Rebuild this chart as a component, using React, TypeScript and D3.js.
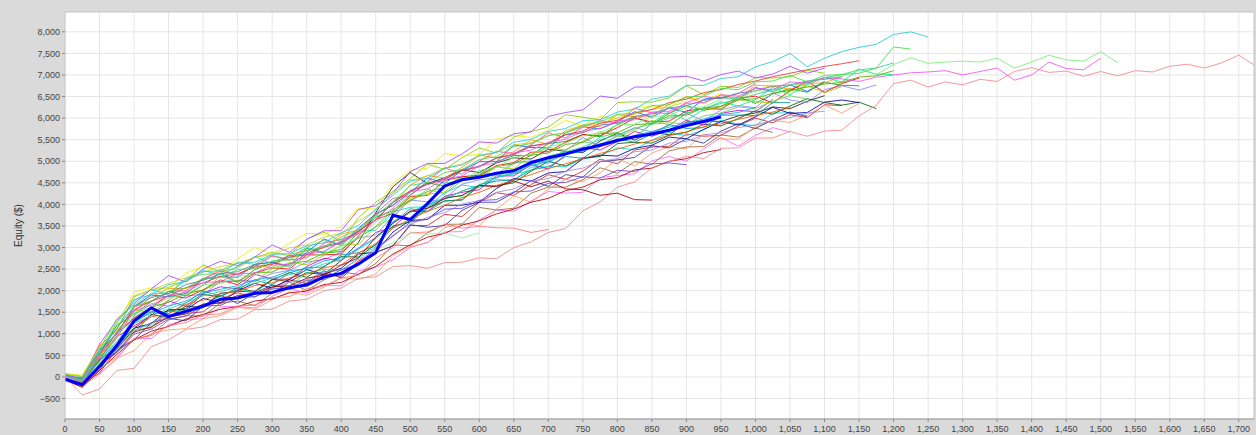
import React from "react";
import * as d3 from "d3";

const W = 1256;
const H = 435;
const TRADE_STEP = 25;
const xTickValues = d3.range(0, 1701, 50);
const yTickValues = d3.range(-500, 8001, 500);
const yAxisTitle = "Equity ($)";

const runA = [80, 10, 710, 1100, 1860, 2020, 2070, 2230, 2600, 2440, 2530, 2770, 2890, 2810, 3190, 3360, 3130, 3690, 4050, 4300, 4600, 4930, 4810, 5080, 5310, 5190, 5560, 5690, 5790, 6080, 6020, 5960, 6360, 6380, 6370, 6470, 6750, 6540, 6740, 6710, 6940, 6930, 6960, 7110, 7040];
const runB = [60, 65, 660, 1180, 1970, 2070, 2060, 2410, 2560, 2450, 2740, 3000, 2850, 3100, 3330, 3310, 3480, 3910, 3890, 4490, 4790, 4840, 5180, 5120, 5160, 5510, 5600, 5550, 5720, 5950, 5820, 6040, 5980, 6240, 6280, 6240, 6490, 6410, 6570, 6420, 6650, 6770, 6610];
const runC = [0, -105, 520, 1200, 1450, 1750, 1980, 1880, 2130, 2410, 2190, 2490, 2640, 2590, 2980, 2870, 2910, 3360, 3700, 3850, 4220, 4500, 4420, 4640, 4680, 4990, 5130, 5140, 5410, 5460, 5620, 5570, 5850, 6020, 5860, 6110, 6290, 6180, 6270, 6500, 6340, 6560, 6680, 6600, 6830, 6760, 6750];
const runD = [-50, -132, 90, 640, 1090, 1140, 1530, 1470, 1510, 1810, 1950, 1850, 2070, 2250, 2170, 2390, 2330, 2690, 2880, 3040, 3510, 3510, 3770, 3720, 4050, 4270, 4210, 4460, 4690, 4580, 4770, 5050, 4940, 5260, 5330, 5350, 5630, 5580, 5600, 5820, 6000, 5890, 6080, 6010, 6310, 6290];
const runE = [-20, -132, 400, 650, 1120, 1450, 1370, 1640, 1630, 1940, 1980, 1990, 2260, 2210, 2420, 2370, 2700, 3120, 3810, 4410, 4740, 4480, 4620, 4800, 4740, 4960, 5080, 5050, 5280, 5230, 5200, 5470, 5650, 5490, 5680, 5610, 5910, 5940, 5920, 6050, 6120, 6260, 6220, 6390, 6520];
const runF = [50, 9, 540, 1260, 1760, 2020, 1920, 2250, 2470, 2360, 2560, 2790, 2630, 2770, 3000, 2890, 3160, 3380, 3400, 3830, 3930, 3950, 4270, 4450, 4390, 4580, 4560, 4860, 4890, 4870, 5050, 5120, 5310, 5270, 5490, 5670, 5590, 5730, 5950, 5860, 5830, 6120, 6120, 6060];
const runG = [-80, -178, 80, 420, 900, 890, 1210, 1330, 1350, 1630, 1630, 1600, 1870, 2050, 1940, 2130, 2110, 2460, 2540, 2720, 3000, 3120, 3360, 3370, 3640, 3870, 3840, 4080, 4300, 4260, 4280, 4620, 4670, 4710, 5010, 5110, 5000, 5290, 5550, 5350, 5600, 5780, 5680];
const runH = [30, -51, 380, 750, 1420, 1700, 1640, 1880, 1910, 2210, 2240, 2220, 2400, 2470, 2660, 2720, 2890, 3220, 3290, 3730, 4100, 4060, 4130, 4470, 4570, 4610, 4960, 5010, 4950, 5240, 5550, 5350, 5600, 5780, 5680, 5830, 6110, 5940, 6190, 6290, 6240, 6580, 6420, 6360, 6660, 6750, 6650, 6770];
const runI = [-40, -218, 210, 650, 860, 980, 1320, 1420, 1410, 1710, 1760, 1650, 1940, 2200, 2000, 2250, 2430, 2380, 2630, 3060, 3040, 3340, 3540, 3540, 3930, 3870, 3910, 4260, 4400, 4400, 4570, 4850, 4720, 4990, 4930, 5240, 5330, 5340, 5610, 5560, 5770, 5670];
const runJ = [40, -47, 760, 1310, 1700, 2040, 2350, 2200, 2500, 2680, 2580, 2780, 3060, 2890, 3190, 3390, 3390, 3880, 3970, 4260, 4760, 4950, 4950, 5170, 5450, 5420, 5640, 5680, 6040, 6130, 6190, 6510, 6460, 6720, 6720, 6950, 6970, 6860, 7010, 7090, 6930, 7020, 7200, 7040, 7160];
const runK = [20, -88, 730, 1070, 1510, 1860, 2050, 2050, 2270, 2500, 2370, 2590, 2530, 2840, 2930, 2990, 3310, 3410, 3770, 3970, 4450, 4670, 4610, 4860, 5140, 5080, 5220, 5500, 5390, 5710, 5830, 5800, 6080, 6030, 6050, 6320, 6500, 6340, 6530, 6460, 6760, 6740, 6670, 6800, 6820, 6960];
const runL = [-30, -85, 240, 760, 1030, 1440, 1530, 1590, 1910, 1860, 2070, 1970, 2250, 2420, 2310, 2560, 2790, 2780, 3070, 3500, 3590, 3910, 4080, 4100, 4430, 4430, 4500, 4770, 5000, 4890, 5080, 5110, 5410, 5440, 5420, 5600, 5670, 5860, 5820, 5990, 6170, 6090, 6280, 6450, 6360, 6300, 6370, 6220];
const runM = [10, -119, 470, 1020, 1360, 1610, 1890, 1830, 2020, 2250, 2140, 2410, 2530, 2500, 2830, 2830, 2850, 3270, 3650, 3790, 4180, 4210, 4560, 4640, 4670, 4900, 4970, 5210, 5220, 5440, 5620, 5590, 5780, 6000, 5910, 5930, 6170, 6220, 6210, 6460, 6510, 6350, 6640, 6850, 6600, 6800, 6930];
const runN = [-10, -130, 140, 710, 1130, 1200, 1530, 1530, 1600, 1870, 2050, 1940, 2130, 2110, 2410, 2490, 2470, 2750, 3020, 3460, 3620, 3940, 4170, 4190, 4430, 4700, 4710, 4780, 5120, 5220, 5260, 5560, 5660, 5550, 5890, 6150, 5950, 6200, 6380, 6280, 6430, 6710, 6540, 6790, 6940, 6840, 7130, 7020, 7010];
const runO = [-90, -215, 60, 430, 610, 1010, 1090, 1120, 1350, 1420, 1610, 1570, 1790, 1970, 1890, 2080, 2300, 2260, 2380, 2820, 3020, 3110, 3460, 3560, 3500, 3890, 4200, 4050, 4350, 4580, 4530, 4730, 5060, 4890, 5190, 5340, 5290, 5630, 5520, 5510, 5810, 5950, 5900, 6070, 6300, 6120, 6340];
const runP = [0, -28, 620, 990, 1630, 1900, 1860, 1930, 2270, 2320, 2310, 2610, 2660, 2550, 2890, 3200, 3050, 3450, 3780, 3980, 4280, 4610, 4490, 4790, 4990, 4990, 5380, 5320, 5310, 5660, 5800, 5750, 5920, 6150, 6020, 6240, 6130, 6440, 6480, 6440, 6710, 6610, 6770, 6620, 6850];
const runQ = [-20, -140, 410, 930, 1180, 1430, 1760, 1640, 1940, 2090, 2040, 2380, 2270, 2260, 2560, 2750, 2700, 2970, 3350, 3470, 3840, 3830, 4190, 4280, 4340, 4660, 4660, 4920, 4820, 5150, 5320, 5260, 5460, 5690, 5580, 5720, 5950, 5840, 6110, 6180, 6150, 6430];
const runR = [30, -45, 640, 1350, 1670, 1940, 1930, 2290, 2380, 2390, 2660, 2610, 2820, 2720, 3000, 3170, 3060, 3360, 3740, 3830, 4070, 4350, 4240, 4560, 4730, 4700, 4980, 4980, 5000, 5270, 5450, 5390, 5580, 5560, 5860, 5890, 5870, 6050, 6120, 6260, 6220, 6390, 6520, 6440];
const runS = [-60, -236, 290, 600, 860, 1260, 1360, 1300, 1640, 1900, 1700, 1950, 2130, 2030, 2180, 2460, 2290, 2640, 2890, 3040, 3530, 3470, 3510, 3860, 4050, 4050, 4270, 4550, 4420, 4690, 4630, 4990, 5030, 5090, 5360, 5310, 5520, 5420, 5700, 5870, 5760, 5960, 6140, 6030];
const runT = [10, -61, 360, 900, 1560, 1490, 1790, 1990, 1990, 2330, 2220, 2210, 2510, 2650, 2600, 2820, 3050, 3070, 3490, 3680, 4140, 4230, 4290, 4610, 4610, 4870, 4820, 5150, 5320, 5260, 5460, 5690, 5580, 5720, 5950, 5840, 6110, 6230, 6200, 6430, 6380, 6350, 6620, 6750, 6590, 6730];
const runU = [-10, -132, 400, 650, 1250, 1520, 1460, 1710, 1990, 1880, 2020, 2250, 2140, 2410, 2530, 2550, 2830, 2880, 3050, 3570, 3900, 3840, 4080, 4110, 4460, 4540, 4570, 4800, 4870, 5110, 5070, 5340, 5520, 5440, 5630, 5850, 5760, 5780, 6070, 6070, 6060, 6360, 6360];
const runV = [20, -17, 570, 1000, 1620, 1750, 1980, 2000, 2270, 2450, 2370, 2560, 2800, 2710, 2760, 3100, 3190, 3330, 3790, 4140, 4200, 4540, 4850, 4700, 5000, 5230, 5180, 5380, 5660, 5540, 5790, 5940, 5890, 6230, 6120, 6110, 6360, 6500, 6450, 6570, 6800];
const runW = [-30, -128, 160, 770, 1130, 1240, 1560, 1560, 1820, 1720, 2000, 2170, 2060, 2260, 2490, 2380, 2520, 2850, 2890, 3360, 3630, 3650, 3980, 3980, 4050, 4370, 4600, 4540, 4730, 4760, 5060, 5140, 5120, 5300, 5370, 5560, 5520, 5740, 5920, 5840, 6030, 6250, 6110, 6130, 6370, 6420, 6360];
const runY1 = [0, -110, 380, 820, 1300, 1480, 1640, 1760, 1950, 2030, 2120, 2250, 2310, 2460, 2510, 2690, 2760, 2990, 3230, 3600, 3820, 4000, 4130, 4310, 4440, 4620, 4710, 4900, 4990, 5160, 5230, 5410, 5470, 5600, 5690, 5790, 5880, 5980, 6080, 6130, 6250];
const runY2 = [-70, -240, 150, 520, 860, 1060, 1170, 1340, 1450, 1570, 1630, 1760, 1810, 1950, 1990, 2140, 2190, 2380, 2560, 2850, 3060, 3240, 3330, 3520, 3620, 3780, 3890, 4050, 4140, 4320, 4400, 4570, 4620, 4800, 4840, 5000, 5060, 5200, 5270];
const runY3 = [0, -100, 430, 950, 1380, 1620, 1730, 1930, 2010, 2200, 2220, 2420, 2430, 2630, 2680, 2870, 2960, 3230, 3480, 3880, 4090, 4300, 4390, 4600, 4660, 4880, 4940, 5140, 5190, 5390, 5440, 5640, 5660, 5850, 5870, 6050, 6070, 6240, 6270, 6420, 6450, 6580, 6640, 6720, 6790, 6830, 6950, 6980, 7100];
const runY4 = [-20, -140, 300, 730, 1140, 1390, 1470, 1680, 1780, 1930, 1980, 2120, 2180, 2300, 2380, 2530, 2600, 2870, 3090, 3450, 3660, 3840, 3980, 4160, 4280, 4440, 4560, 4690, 4830, 4940, 5060, 5180, 5280, 5400, 5480, 5610, 5680, 5800, 5870, 5970, 6060, 6140, 6240];
const runY5 = [40, -40, 560, 1130, 1640, 1840, 1930, 2140, 2240, 2390, 2440, 2610, 2660, 2810, 2860, 3040, 3120, 3390, 3640, 4060, 4320, 4480, 4600, 4790, 4890, 5080, 5160, 5360, 5410, 5610, 5660, 5840, 5880, 6040, 6100, 6230, 6290, 6410, 6470, 6580, 6630, 6740, 6770, 6860, 6900, 6960];
const runY6 = [70, 10, 690, 1260, 1880, 2010, 2170, 2300, 2430, 2560, 2630, 2770, 2840, 2990, 3060, 3240, 3330, 3610, 3860, 4260, 4560, 4660, 4840, 4940, 5120, 5200, 5380, 5430, 5600, 5660, 5800, 5880, 6000, 6090, 6200, 6260, 6380];
const runY7 = [-30, -170, 240, 660, 1060, 1260, 1390, 1560, 1680, 1800, 1860, 2010, 2060, 2200, 2250, 2420, 2480, 2720, 2920, 3290, 3540, 3700, 3810, 4010, 4090, 4280, 4360, 4540, 4600, 4770, 4840, 5000, 5060, 5220, 5260, 5420, 5460, 5610, 5660, 5780, 5840, 5950, 6010, 6120, 6160];
const runY8 = [-10, -120, 340, 790, 1240, 1420, 1580, 1720, 1880, 1980, 2080, 2170, 2290, 2370, 2470, 2620, 2710, 2960, 3200, 3580, 3820, 3990, 4120, 4310, 4440, 4620, 4730, 4930, 5030, 5220, 5330, 5500, 5610, 5760, 5870, 6000, 6110, 6230, 6340, 6440, 6550, 6650, 6760, 6830, 6940, 7010, 7120, 7160, 7280];
const runY9 = [20, -90, 520, 1040, 1560, 1760, 1880, 2070, 2180, 2330, 2390, 2550, 2610, 2780, 2830, 3010, 3100, 3380, 3640, 4040, 4300, 4460, 4580, 4780, 4870, 5070, 5150, 5350, 5420, 5620, 5700, 5880, 5950, 6120, 6200, 6360, 6440, 6590, 6660, 6780, 6860, 6960, 7040, 7120, 7200, 7260, 7330];

const runLowSalmon = [0, -420, -280, 150, 200, 700, 860, 1100, 1160, 1330, 1340, 1560, 1570, 1760, 1800, 2000, 2060, 2290, 2320, 2560, 2580, 2520, 2650, 2660, 2760, 2740, 3000, 3130, 3350, 3440, 3850, 4060, 4400, 4520, 4850, 4990, 5120, 5060, 5300, 5310, 5540, 5540, 5690, 5580, 5700, 5720, 6050, 6300, 6800, 6880, 6720, 6840, 6770, 6900, 6850, 7080, 7170, 7060, 7090, 6970, 7080, 6980, 7100, 7070, 7200, 7250, 7160, 7280, 7460, 7200];
const runShortSalmon = [0, -230, 180, 460, 880, 960, 1190, 1260, 1440, 1460, 1640, 1670, 1840, 1860, 2050, 2110, 2290, 2360, 2750, 3000, 3340, 3360, 3540, 3450, 3490, 3460, 3450, 3350, 3420];
const runShortGreen = [20, -180, 320, 610, 1090, 1160, 1390, 1460, 1640, 1660, 1840, 1860, 2040, 2060, 2240, 2270, 2490, 2560, 2940, 3110, 3340, 3310, 3340, 3220, 3340];
const runDarkRed = [-40, -200, 260, 580, 1040, 1160, 1390, 1460, 1690, 1710, 1890, 1910, 2090, 2110, 2290, 2360, 2590, 2760, 3240, 3560, 3840, 3910, 4140, 4210, 4440, 4410, 4540, 4410, 4540, 4360, 4340, 4210, 4260, 4110, 4100];
const runViolet = [0, -200, 270, 560, 990, 1110, 1340, 1410, 1640, 1660, 1840, 1860, 2040, 2060, 2240, 2260, 2490, 2610, 2990, 3260, 3590, 3660, 3890, 3910, 4090, 4110, 4290, 4310, 4490, 4510, 4640, 4610, 4790, 4760, 4940, 4960, 4920];
const runTopCyan = [30, -60, 640, 1110, 1790, 1910, 2140, 2210, 2440, 2460, 2640, 2660, 2840, 2860, 3040, 3110, 3340, 3510, 3890, 4210, 4540, 4610, 4840, 4910, 5140, 5210, 5440, 5510, 5690, 5760, 5940, 5960, 6140, 6210, 6440, 6510, 6760, 6760, 6920, 6960, 7190, 7310, 7500, 7190, 7390, 7540, 7640, 7710, 7940, 8000, 7880];
const runTopGreen = [10, -90, 560, 1010, 1640, 1760, 1990, 2060, 2290, 2310, 2490, 2510, 2690, 2710, 2940, 3010, 3240, 3410, 3740, 4060, 4440, 4510, 4740, 4810, 5040, 5110, 5340, 5410, 5590, 5660, 5840, 5910, 6090, 6110, 6290, 6310, 6490, 6510, 6690, 6660, 6840, 6860, 6990, 6840, 6990, 7010, 7040, 7160, 7650, 7600];
const runLongGreen = [0, -110, 490, 910, 1490, 1610, 1840, 1910, 2140, 2160, 2340, 2360, 2540, 2560, 2790, 2860, 3040, 3210, 3590, 3860, 4190, 4260, 4490, 4560, 4790, 4860, 5090, 5160, 5340, 5410, 5590, 5660, 5840, 5860, 6040, 6060, 6240, 6260, 6440, 6460, 6640, 6610, 6790, 6760, 6940, 6960, 7140, 7010, 7240, 7400, 7270, 7300, 7320, 7300, 7390, 7160, 7300, 7460, 7350, 7320, 7540, 7280];
const runLongMagenta = [20, -120, 510, 940, 1540, 1660, 1890, 1960, 2190, 2210, 2390, 2410, 2590, 2610, 2840, 2910, 3140, 3310, 3640, 3910, 4290, 4360, 4590, 4660, 4890, 4960, 5190, 5260, 5440, 5510, 5690, 5760, 5940, 5960, 6140, 6160, 6340, 6360, 6540, 6510, 6690, 6660, 6840, 6810, 6940, 6910, 6850, 6950, 7000, 7050, 7070, 7100, 7000, 7080, 7160, 6880, 7000, 7300, 7150, 7120, 7390];
const meanRun = [-50, -180, 250, 720, 1300, 1600, 1400, 1520, 1640, 1800, 1830, 1940, 1960, 2070, 2130, 2320, 2400, 2620, 2880, 3750, 3650, 4020, 4430, 4570, 4630, 4720, 4780, 4970, 5080, 5170, 5280, 5370, 5480, 5570, 5630, 5720, 5830, 5920, 6030];

const thinRuns = [runA, runB, runC, runD, runE, runF, runG, runH, runI, runJ, runK, runL, runM, runN, runO, runP, runQ, runR, runS, runT, runU, runV, runW, runY1, runY2, runY3, runY4, runY5, runY6, runY7, runY8, runY9, runLowSalmon, runShortSalmon, runShortGreen, runDarkRed, runViolet, runTopCyan, runTopGreen, runLongGreen, runLongMagenta];
const thinColors = ["#88cc00", "#eeee00", "#00b000", "#dd2222", "#222222", "#00dddd", "#ff66ff", "#8888ff", "#996633", "#aa44ff", "#ff9900", "#006600", "#ff0000", "#00ee88", "#ff9966", "#0066ff", "#cc00cc", "#66cc66", "#333399", "#99cc00", "#009999", "#ff44aa", "#0000aa", "#00aaff", "#aa0000", "#55aa00", "#ff5500", "#4682b4", "#cccc33", "#aa88dd", "#33cc99", "#ee3333", "#f08888", "#ff7777", "#99ee99", "#990000", "#6644dd", "#22cccc", "#44dd44", "#77ee77", "#ee55ee"];
const meanColor = "#0000ff";

export default function App() {
  const x = d3.scaleLinear().domain([0, 1722]).range([65, 1254]);
  const y = d3.scaleLinear().domain([-975, 8460]).range([419, 12]);
  const line = d3
    .line<number>()
    .x((_, i) => x(i * TRADE_STEP))
    .y((d) => y(d));
  const fmt = d3.format(",");
  const [x0, x1] = x.range();
  const [y0, y1] = y.range();

  return (
    <svg
      width={W}
      height={H}
      style={{ position: "absolute", left: 0, top: 0, display: "block" }}
      fontFamily="'Liberation Sans', Arial, sans-serif"
    >
      <defs>
        <clipPath id="plotClip">
          <rect x={x0} y={y1} width={x1 - x0} height={y0 - y1} />
        </clipPath>
      </defs>
      <rect width={W} height={H} fill="#dadada" />
      <rect x={x0} y={y1} width={x1 - x0} height={y0 - y1} fill="#ffffff" />
      {xTickValues.map((t) => (
        <line key={"gx" + t} x1={x(t)} x2={x(t)} y1={y1} y2={y0} stroke="#e6e6e6" strokeWidth={1} />
      ))}
      {yTickValues.map((t) => (
        <line key={"gy" + t} x1={x0} x2={x1} y1={y(t)} y2={y(t)} stroke="#e6e6e6" strokeWidth={1} />
      ))}
      <g clipPath="url(#plotClip)" fill="none">
        {thinRuns.map((run, i) => (
          <path key={i} d={line(run) || ""} stroke={thinColors[i % thinColors.length]} strokeWidth={1} strokeOpacity={0.85} strokeLinejoin="round" />
        ))}
        <path d={line(meanRun) || ""} stroke={meanColor} strokeWidth={3} strokeLinejoin="round" />
      </g>
      <rect x={x0} y={y1} width={x1 - x0} height={y0 - y1} fill="none" stroke="#c4c4c4" strokeWidth={1} />
      <line x1={x0} x2={x1} y1={y0} y2={y0} stroke="#a0a0a0" />
      {yTickValues.map((t) => (
        <g key={"ty" + t}>
          <line x1={x0 - 3} x2={x0} y1={y(t)} y2={y(t)} stroke="#888" />
          <text x={x0 - 5} y={y(t)} dy="0.35em" textAnchor="end" fontSize={9} fill="#444">
            {fmt(t)}
          </text>
        </g>
      ))}
      {xTickValues.map((t) => (
        <g key={"tx" + t}>
          <line x1={x(t)} x2={x(t)} y1={y0} y2={y0 + 3} stroke="#888" />
          <text x={x(t)} y={y0 + 13} textAnchor="middle" fontSize={9} fill="#444">
            {fmt(t)}
          </text>
        </g>
      ))}
      <text
        transform={`translate(22, ${(y0 + y1) / 2 + 10}) rotate(-90)`}
        textAnchor="middle"
        fontSize={10}
        fill="#333"
      >
        {yAxisTitle}
      </text>
    </svg>
  );
}
